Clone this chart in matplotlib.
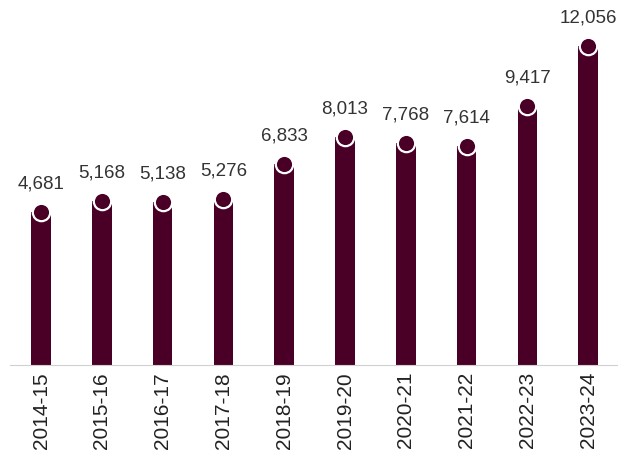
import numpy as np
import matplotlib.pyplot as plt

years = ["2014-15", "2015-16", "2016-17", "2017-18", "2018-19",
         "2019-20", "2020-21", "2021-22", "2022-23", "2023-24"]
values = [4681, 5168, 5138, 5276, 6833, 8013, 7768, 7614, 9417, 12056]

bar_color = "#4a0026"
base = -2115

plt.rcParams['font.family'] = ['Liberation Sans', 'DejaVu Sans']

fig = plt.figure(figsize=(6.18, 4.51), dpi=100)
ax = fig.add_axes([10/618, (451-365)/451, 608/618, (365-25)/451])

x = np.arange(len(years))
vals = np.array(values)
ax.bar(x, vals - base, bottom=base, width=0.32, color=bar_color, zorder=2)
ax.plot(x, vals, 'o', ms=12.5, color=bar_color, mec='white', mew=1.6, zorder=3)

for xi, v in zip(x, values):
    ax.annotate(f"{v:,}", (xi, v), xytext=(0, 14), textcoords='offset points',
                ha='center', va='bottom', fontsize=13.5, color='#333333')

ax.set_xlim(-0.51, 9.49)
ax.set_ylim(base, 13000)
ax.set_xticks(x)
ax.set_xticklabels(years, rotation=90, fontsize=15, color='#222222')
ax.tick_params(axis='x', length=0, pad=5)
ax.set_yticks([])
for s in ['top', 'right', 'left']:
    ax.spines[s].set_visible(False)
ax.spines['bottom'].set_color('#d0d0d0')

fig.savefig("out.png", dpi=100)
